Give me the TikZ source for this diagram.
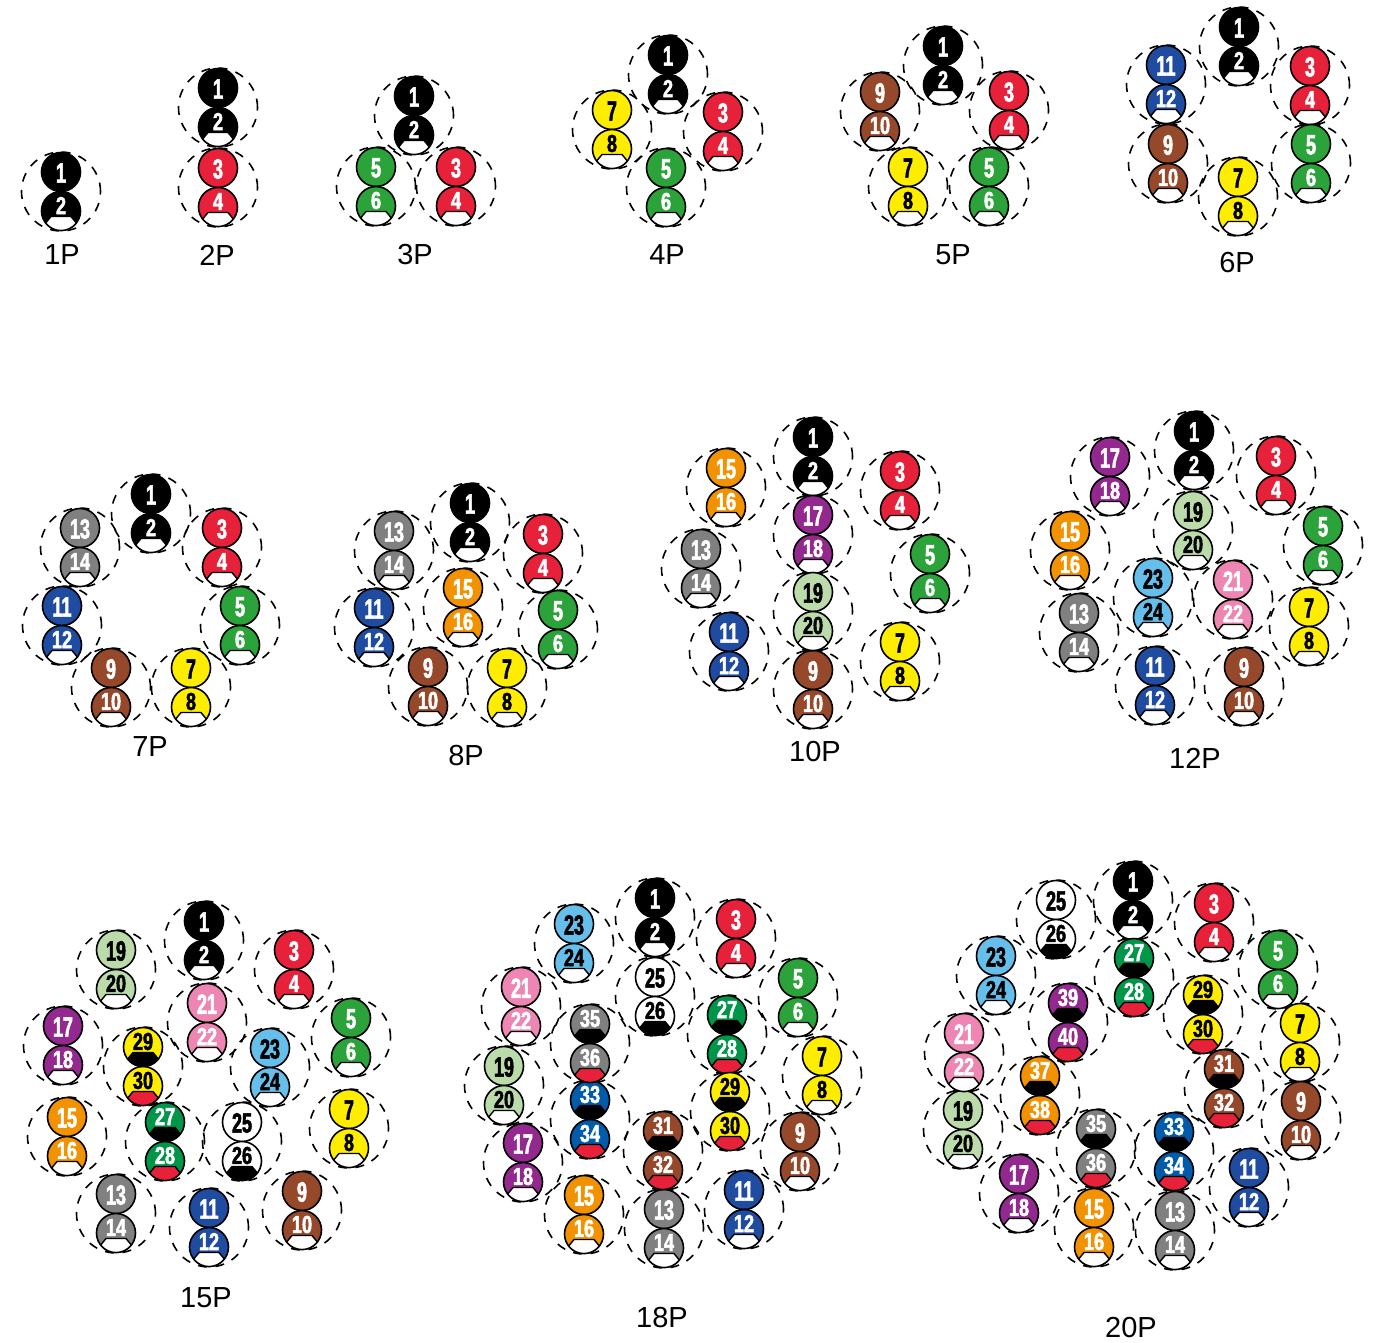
\documentclass[tikz,border=0pt]{standalone}
\usepackage{fontspec}
\setmainfont{Liberation Sans}
\newfontfamily\topnumfont[FakeStretch=0.64,BoldFeatures={FakeBold=2}]{Liberation Sans}
\newfontfamily\lownumfont[FakeStretch=0.74,BoldFeatures={FakeBold=2}]{Liberation Sans}
\usetikzlibrary{calc}

\definecolor{pair3col}{RGB}{232,33,59}
\tikzset{
  pair1/.style={fill=black,text=white},
  pair3/.style={fill=pair3col,text=white},
  pair5/.style={fill={rgb,255:red,44;green,163;blue,58},text=white},
  pair7/.style={fill={rgb,255:red,255;green,237;blue,0},text=black},
  pair9/.style={fill={rgb,255:red,150;green,72;blue,43},text=white},
  pair11/.style={fill={rgb,255:red,31;green,75;blue,160},text=white},
  pair13/.style={fill={rgb,255:red,128;green,128;blue,128},text=white},
  pair15/.style={fill={rgb,255:red,243;green,146;blue,0},text=white},
  pair17/.style={fill={rgb,255:red,147;green,40;blue,142},text=white},
  pair19/.style={fill={rgb,255:red,187;green,220;blue,170},text=black},
  pair21/.style={fill={rgb,255:red,238;green,134;blue,180},text=white},
  pair23/.style={fill={rgb,255:red,102;green,190;blue,235},text=black},
  pair25/.style={fill=white,text=black},
  pair27/.style={fill={rgb,255:red,0;green,150;blue,74},text=white},
  pair29/.style={pair7},
  pair31/.style={pair9},
  pair33/.style={fill={rgb,255:red,0;green,91;blue,170},text=white},
  pair35/.style={pair13},
  pair37/.style={pair15},
  pair39/.style={pair17},
  disc/.style={circle,draw=black,line width=1.6pt,minimum size=39pt,inner sep=0pt},
  halo/.style={circle,draw=black,line width=1.6pt,dash pattern=on 9pt off 8.5pt,minimum size=79pt,inner sep=0pt},
  topnum/.style={inner sep=0pt,font=\topnumfont\bfseries\fontsize{28}{28}\selectfont},
  lownum/.style={inner sep=0pt,font=\lownumfont\bfseries\fontsize{24.5}{24.5}\selectfont},
  plabel/.style={inner sep=0pt,font=\fontsize{29}{29}\selectfont}
}

% cap at the foot of a disc
\newcommand{\capshape}[2]{%
  \draw[shift={(#1.center)},line width=1.4pt,fill=#2] (-10,5.5) -- (-15.3,12)
    .. controls (-7.5,22) and (7.5,22) .. (15.3,12) -- (10,5.5) -- cycle;}

% one layout: name, then first number/x/y of the upper disc
\newcommand{\layout}[2]{%
  \foreach \n/\cx/\cy in {#2} {
    \node[halo] (#1-h\n) at (\cx,\cy+19.5) {};
  }
  \foreach \n/\cx/\cy in {#2} {
    \pgfmathtruncatemacro{\m}{\n+1}
    \node[disc,pair\n] (#1-a\n) at (\cx,\cy) {};
    \node[disc,pair\n] (#1-b\n) at (\cx,\cy+39) {};
    \ifnum\n>26
      \capshape{#1-a\n}{black}
      \capshape{#1-b\n}{pair3col}
      \node[lownum,pair\n,fill=none] (#1-s\n) at (\cx,\cy-5.5) {\n};
    \else
      \ifnum\n=25
        \capshape{#1-b\n}{black}
      \else
        \capshape{#1-b\n}{white}
      \fi
      \node[topnum,pair\n,fill=none] (#1-s\n) at (\cx,\cy+1) {\n};
    \fi
    \node[lownum,pair\n,fill=none] (#1-t\n) at (\cx,\cy+33.5) {\m};
  }
}

\begin{document}
\begin{tikzpicture}[x=1pt,y=-1pt]
  \useasboundingbox (0,0) rectangle (1376,1343);
  % First row
  \layout{pA}{1/61/172}
  \node[plabel] (lA) at (62,255) {1P};
  \layout{pB}{1/218/88,3/218/168}
  \node[plabel] (lB) at (217,255) {2P};
  \layout{pC}{1/414/96,3/456/167,5/376/167}
  \node[plabel] (lC) at (415,255) {3P};
  \layout{pD}{1/668/55,3/723/112,5/666/168,7/612/110}
  \node[plabel] (lD) at (667,255) {4P};
  \layout{pE}{1/943/46,3/1009/91,5/989/167,7/908/167,9/880/92}
  \node[plabel] (lE) at (953,255) {5P};
  \layout{pF}{1/1239/27,3/1310/66,5/1311/144,7/1238/177,9/1168/144,11/1166/65}
  \node[plabel] (lF) at (1237,263) {6P};
  % Second row
  \layout{pG}{1/151/494,3/222/528,5/240/606,7/191/668,9/111/668,11/62/606,13/80/528}
  \node[plabel] (lG) at (150,747) {7P};
  \layout{pH}{1/470/503,3/543/534,5/558/610,7/507/668,9/428/667,11/374/608,13/394/531,15/463/588}
  \node[plabel] (lH) at (466,756) {8P};
  \layout{pI}{1/813/437,3/900/471,5/930/554,7/900/642,9/813/670,11/729/632,13/701/549,15/726/468,17/813/515,19/813/592}
  \node[plabel] (lI) at (815,752) {10P};
  \layout{pJ}{1/1194/431,3/1276/456,5/1323/526,7/1309/607,9/1244/667,11/1155/666,13/1079/613,15/1070/531,17/1110/457,19/1193/511,21/1233/580,23/1153/578}
  \node[plabel] (lJ) at (1195,758) {12P};
  % Third row
  \layout{pK}{1/204/921,3/294/950,5/351/1018,7/349/1109,9/302/1191,11/209/1208,13/116/1194,15/67/1117,17/63/1026,19/116/950,21/207/1003,23/270/1048,25/242/1122,27/165/1122,29/143/1047}
  \node[plabel] (lK) at (206,1298) {15P};
  \layout{pL}{1/655/898,3/736/919,5/798/978,7/822/1056,9/800/1132,11/744/1190,13/664/1209,15/584/1195,17/523/1143,19/504/1066,21/521/987,23/574/924,25/655/977,27/727/1015,29/730/1092,31/663/1131,33/590/1100,35/590/1024}
  \node[plabel] (lL) at (662,1318) {18P};
  \layout{pM}{1/1133/881,3/1214/903,5/1278/950,7/1300/1023,9/1301/1101,11/1249/1168,13/1175/1211,15/1094/1208,17/1019/1174,19/963/1110,21/964/1033,23/996/956,25/1056/900,27/1134/958,29/1203/995,31/1224/1069,33/1174/1132,35/1096/1129,37/1040/1076,39/1068/1003}
  \node[plabel] (lM) at (1131,1328) {20P};
\end{tikzpicture}
\end{document}
